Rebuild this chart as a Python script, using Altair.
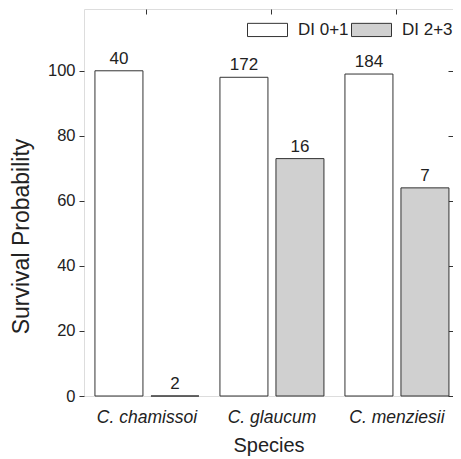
import altair as alt
import pandas as pd

species = ["C. chamissoi", "C. glaucum", "C. menziesii"]
groups = ["DI 0+1", "DI 2+3"]
surv_01 = [100, 98, 99]
surv_23 = [0, 73, 64]
n_01 = [40, 172, 184]
n_23 = [2, 16, 7]

rows = []
for i, s in enumerate(species):
    rows.append({"Species": s, "Group": groups[0], "Survival": surv_01[i], "n": str(n_01[i])})
    rows.append({"Species": s, "Group": groups[1], "Survival": surv_23[i], "n": str(n_23[i])})
df = pd.DataFrame(rows)

FONT = "Liberation Sans"

x_scale = alt.Scale(domain=species, paddingInner=0.168, paddingOuter=0.06, align=0.73)
xo_scale = alt.Scale(domain=groups, paddingInner=0.143)
y_scale = alt.Scale(domain=[0, 119], nice=False, zero=True)

base = alt.Chart(df)

bars = base.mark_bar(stroke="#333333", strokeWidth=1).encode(
    x=alt.X("Species:N", scale=x_scale, sort=species,
            axis=alt.Axis(title="Species", titleFontSize=20, titleFontWeight="normal",
                          titlePadding=10, labelFontSize=17.5, labelFontStyle="italic",
                          labelAngle=0, ticks=False, labelPadding=12, domain=False,
                          labelColor="#222222", titleColor="#222222")),
    xOffset=alt.XOffset("Group:N", scale=xo_scale, sort=groups),
    y=alt.Y("Survival:Q", scale=y_scale,
            axis=alt.Axis(title="Survival Probability", values=[0, 20, 40, 60, 80, 100],
                          tickSize=5, labelFontSize=16.5, titleFontSize=23,
                          titleFontWeight="normal", titlePadding=14, labelPadding=4,
                          titleY=227, titleAlign="center",
                          grid=False, domain=False, tickColor="#333333",
                          labelColor="#222222", titleColor="#222222")),
    fill=alt.Fill("Group:N", sort=groups,
                  scale=alt.Scale(domain=groups, range=["#ffffff", "#d0d0d0"]),
                  legend=alt.Legend(title=None, orient="top-right", direction="horizontal",
                                    symbolType="M-1,-0.33H1V0.33H-1Z", symbolSize=1600,
                                    symbolStrokeColor="#333333", symbolStrokeWidth=1,
                                    labelFontSize=17, labelOffset=10, columnPadding=0,
                                    padding=0, offset=0, labelColor="#222222")),
)

labels = base.mark_text(baseline="bottom", dy=-3, fontSize=17, color="#222222", font=FONT).encode(
    x=alt.X("Species:N", scale=x_scale, sort=species, axis=None),
    xOffset=alt.XOffset("Group:N", scale=xo_scale, sort=groups),
    y=alt.Y("Survival:Q", scale=y_scale, axis=None),
    text="n:N",
)

frame = base.mark_bar(opacity=0).encode(
    x=alt.X("Species:N", scale=x_scale, sort=species,
            axis=alt.Axis(orient="top", title=None, labels=False, domain=False,
                          tickSize=5, offset=-5, tickColor="#333333")),
    y=alt.Y("Survival:Q", scale=y_scale,
            axis=alt.Axis(orient="right", title=None, labels=False, domain=False, grid=False,
                          values=[0, 20, 40, 60, 80, 100], tickSize=5, offset=-5,
                          tickColor="#333333")),
)

chart = alt.layer(bars, labels, frame).resolve_axis(
    x="independent", y="independent"
).properties(
    width=369, height=387,
    autosize=alt.AutoSizeParams(type="none"),
    padding={"left": 76, "top": 1, "right": 0, "bottom": 62},
).configure_view(
    stroke="#222222", strokeWidth=1.3
).configure(
    font=FONT
)

chart.save("out.html", embed_options={"renderer": "svg", "actions": False})
